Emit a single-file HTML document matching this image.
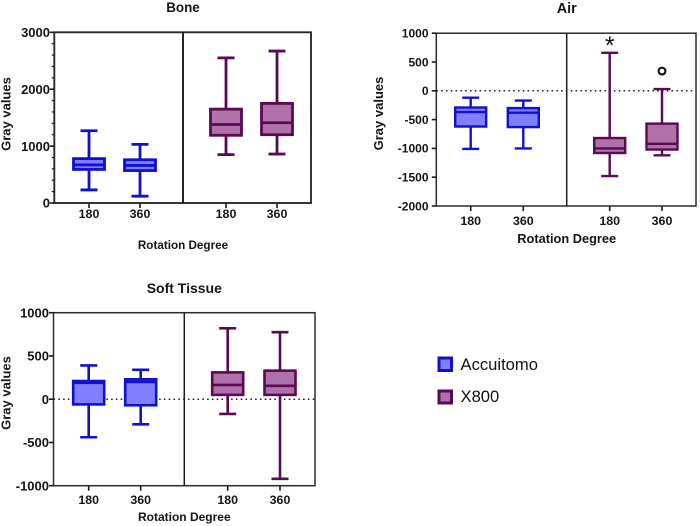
<!DOCTYPE html>
<html>
<head>
<meta charset="utf-8">
<style>
html,body{margin:0;padding:0;background:#fff;}
svg{display:block;font-family:"Liberation Sans",sans-serif;}
</style>
</head>
<body>
<svg id="fig" width="700" height="526" viewBox="0 0 700 526" xmlns="http://www.w3.org/2000/svg">
  <g>
    <rect x="439" y="358" width="12.5" height="12.5" fill="#8080ff" stroke="#1010d0" stroke-width="3"/>
    <text x="460.5" y="370" font-size="16.6" fill="#111">Accuitomo</text>
    <rect x="439" y="391" width="12.5" height="12" fill="#b070a8" stroke="#5a0a55" stroke-width="3"/>
    <text x="460.5" y="402" font-size="16.6" fill="#111">X800</text>
  </g>
</svg>
<script>
var categories = ['180', '360', '180', '360'];
var groups = ['accuitomo', 'accuitomo', 'x800', 'x800'];

// each series: [whisker low, Q1, median, Q3, whisker high]
var boneValues = [
  [230, 590, 670, 780, 1270],
  [120, 570, 660, 760, 1030],
  [850, 1190, 1380, 1650, 2550],
  [860, 1200, 1410, 1750, 2670]
];
var airValues = [
  [-1010, -620, -370, -290, -120],
  [-1000, -630, -380, -300, -170],
  [-1480, -1080, -1000, -820, 660],
  [-1120, -1020, -920, -570, 30]
];
var softValues = [
  [-440, -60, 190, 210, 390],
  [-290, -70, 200, 230, 340],
  [-170, 50, 165, 310, 820],
  [-920, 50, 155, 330, 775]
];
var boneTicks = [0, 1000, 2000, 3000];
var airTicks = [-2000, -1500, -1000, -500, 0, 500, 1000];
var softTicks = [-1000, -500, 0, 500, 1000];
var boneMinorTicks = [200, 400, 600, 800, 1200, 1400, 1600, 1800, 2200, 2400, 2600, 2800];

var NS = 'http://www.w3.org/2000/svg';
var fig = document.getElementById('fig');
var COLORS = {
  accuitomo: {stroke: '#1010d0', fill: '#8080ff'},
  x800: {stroke: '#5a0a55', fill: '#b070a8'}
};

function make(parent, tag, attrs, name) {
  var el = document.createElementNS(NS, tag);
  for (var k in attrs) { el.setAttribute(k, attrs[k]); }
  
  
  parent.appendChild(el);
  return el;
}

function line(parent, x1, y1, x2, y2, color, w, name, dash) {
  var a = {x1: x1, y1: y1, x2: x2, y2: y2, stroke: color, 'stroke-width': w};
  if (dash) { a['stroke-dasharray'] = dash; }
  return make(parent, 'line', a, name);
}

function label(parent, x, y, str, size, anchor, bold, name, rot) {
  var a = {x: x, y: y, 'font-size': size, 'text-anchor': anchor, fill: '#151515'};
  if (bold) { a['font-weight'] = 'bold'; }
  if (rot) { a.transform = 'rotate(-90 ' + x + ' ' + y + ')'; }
  var t = make(parent, 'text', a, name);
  t.textContent = str;
  return t;
}

function drawPanel(p) {
  var g = make(fig, 'g', {}, p.id + '-panel');
  var minV = p.ticks[0];
  var maxV = p.ticks[p.ticks.length - 1];
  function y(v) { return p.bottom - (v - minV) / (maxV - minV) * (p.bottom - p.top); }

  if (p.zeroLine) {
    line(g, p.left, y(0), p.right, y(0), '#222', 1.5, p.id + '-zero-line', '1.6 3.2');
  }

  p.values.forEach(function (v, i) {
    var c = COLORS[groups[i]];
    var x = p.xs[i];
    var s = make(g, 'g', {}, p.id + '-box-' + groups[i] + '-' + categories[i]);
    line(s, x, y(v[0]), x, y(v[4]), c.stroke, p.lw, 'whisker');
    line(s, x - 8.5, y(v[0]), x + 8.5, y(v[0]), c.stroke, p.lw, 'whisker-cap-low');
    line(s, x - 8.5, y(v[4]), x + 8.5, y(v[4]), c.stroke, p.lw, 'whisker-cap-high');
    make(s, 'rect', {
      x: x - 15.5, y: y(v[3]), width: 31, height: y(v[1]) - y(v[3]),
      fill: c.fill, stroke: c.stroke, 'stroke-width': p.lw
    }, 'box');
    line(s, x - 15.5, y(v[2]), x + 15.5, y(v[2]), c.stroke, p.lw, 'median');
  });

  make(g, 'rect', {
    x: p.left, y: p.top, width: p.right - p.left, height: p.bottom - p.top,
    fill: 'none', stroke: '#2a2a2a', 'stroke-width': p.axisW
  }, p.id + '-frame');
  line(g, p.divider, p.top, p.divider, p.bottom, '#1a1a1a', p.axisW, p.id + '-divider');

  p.ticks.forEach(function (t) {
    line(g, p.left - 4.5, y(t), p.left, y(t), '#1a1a1a', 1.6, p.id + '-y-tick');
    label(g, p.tickEnd, y(t) + p.tickSize * 0.36, String(t), p.tickSize, 'end', true, p.id + '-y-tick-label');
  });
  (p.minor || []).forEach(function (t) {
    line(g, p.left - 2.5, y(t), p.left, y(t), '#1a1a1a', 1.2, p.id + '-y-minor-tick');
  });
  p.xs.forEach(function (x, i) {
    line(g, x, p.bottom, x, p.bottom + 5, '#1a1a1a', 1.6, p.id + '-x-tick');
    label(g, x, p.xLabelY, categories[i], p.xSize, 'middle', true, p.id + '-x-tick-label');
  });

  label(g, p.divider, p.titleY, p.title, p.titleSize, 'middle', true, p.id + '-title');
  label(g, p.divider, p.xTitleY, 'Rotation Degree', p.xTitleSize, 'middle', true, p.id + '-x-axis-title');
  label(g, p.yTitleX, p.yTitleY, 'Gray values', 13, 'middle', true, p.id + '-y-axis-title', true);
  return y;
}

drawPanel({
  id: 'bone', title: 'Bone', values: boneValues, ticks: boneTicks, minor: boneMinorTicks,
  left: 54.3, right: 311, top: 32.3, bottom: 203, divider: 183,
  xs: [89, 140, 226, 277], tickEnd: 50, tickSize: 13, xSize: 12.4, xLabelY: 218,
  titleY: 12, titleSize: 13.4, xTitleY: 249, xTitleSize: 11.7, yTitleX: 10.5, yTitleY: 114, lw: 2.8, axisW: 1.9
});

var airY = drawPanel({
  id: 'air', title: 'Air', values: airValues, ticks: airTicks, zeroLine: true,
  left: 436.3, right: 696, top: 33.2, bottom: 206, divider: 566.7,
  xs: [470.7, 523.3, 609.7, 662], tickEnd: 428.5, tickSize: 12, xSize: 12.4, xLabelY: 225,
  titleY: 13, titleSize: 14.4, xTitleY: 243, xTitleSize: 12.8, yTitleX: 383, yTitleY: 113.5, lw: 2.4, axisW: 1.5
});

drawPanel({
  id: 'soft', title: 'Soft Tissue', values: softValues, ticks: softTicks, zeroLine: true,
  left: 53.5, right: 315, top: 312.7, bottom: 485.7, divider: 184.3,
  xs: [88.7, 140.7, 227.7, 280], tickEnd: 49, tickSize: 13, xSize: 12.4, xLabelY: 504,
  titleY: 293, titleSize: 14, xTitleY: 521, xTitleSize: 12, yTitleX: 10.5, yTitleY: 393, lw: 2.6, axisW: 1.5
});

var star = make(fig, 'text', {
  x: 609.7, y: airY(660) + 1, 'font-size': 25, 'text-anchor': 'middle', fill: '#111'
}, 'significance-asterisk');
star.textContent = '*';

var ring = make(fig, 'circle', {
  cx: 662, cy: airY(30) - 18, r: 3.4, fill: 'none', stroke: '#111', 'stroke-width': 2.1
}, 'significance-circle');
</script>
</body>
</html>
